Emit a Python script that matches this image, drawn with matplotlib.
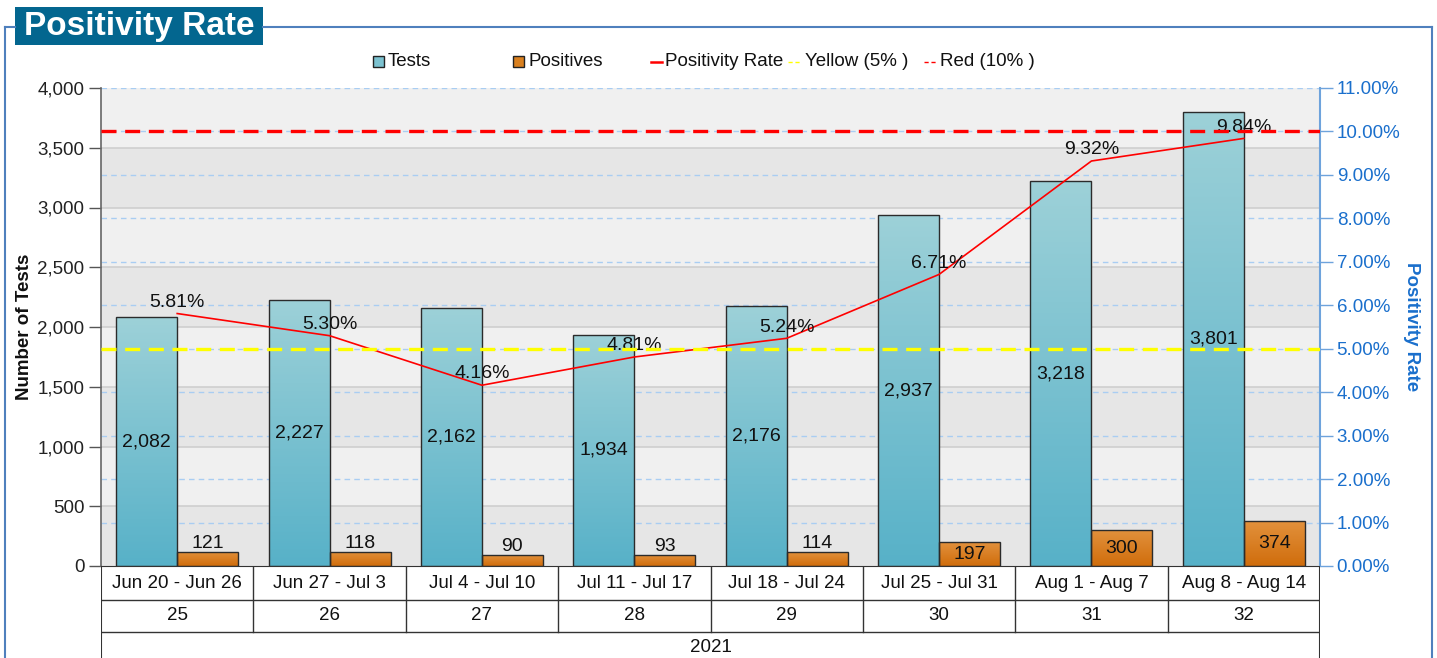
import numpy as np
import matplotlib
matplotlib.use("Agg")
import matplotlib.pyplot as plt
from matplotlib.patches import Rectangle
from matplotlib.lines import Line2D
from matplotlib.colors import LinearSegmentedColormap
from matplotlib.ticker import FuncFormatter, MultipleLocator

plt.rcParams['font.family'] = ['Liberation Sans', 'DejaVu Sans']

weeks = ["Jun 20 - Jun 26", "Jun 27 - Jul 3", "Jul 4 - Jul 10", "Jul 11 - Jul 17",
         "Jul 18 - Jul 24", "Jul 25 - Jul 31", "Aug 1 - Aug 7", "Aug 8 - Aug 14"]
week_nums = ["25", "26", "27", "28", "29", "30", "31", "32"]
year_label = "2021"
tests = [2082, 2227, 2162, 1934, 2176, 2937, 3218, 3801]
positives = [121, 118, 90, 93, 114, 197, 300, 374]
rates = [5.81, 5.30, 4.16, 4.81, 5.24, 6.71, 9.32, 9.84]
yellow_threshold = 5.0
red_threshold = 10.0

W, H = 1437, 658
fig = plt.figure(figsize=(W / 100, H / 100), dpi=100)

def fx(px):
    return px / W

def fy(py):
    return 1 - py / H

L, R, T, B = 101, 1320, 88, 566
ax = fig.add_axes([fx(L), fy(B), fx(R - L), (B - T) / H])
ax2 = ax.twinx()

n = len(weeks)
x = np.arange(n)
bw = 0.4

ax.set_xlim(-0.5, n - 0.5)
ax.set_ylim(0, 4000)
ax2.set_ylim(0, 11)

# background bands
for i, y0 in enumerate(range(0, 4000, 500)):
    ax.axhspan(y0, y0 + 500, color='#e6e6e6' if i % 2 == 0 else '#f0f0f0', zorder=0, lw=0)
for y0 in range(500, 4000, 500):
    ax.axhline(y0, color='#cfcfcf', lw=1.2, zorder=0.5)
for p in range(1, 12):
    ax.axhline(p * 4000 / 11, color='#a9cdf2', lw=1, ls=(0, (4, 3)), zorder=0.6)

cmap_t = LinearSegmentedColormap.from_list('t', ['#57b1c8', '#9dd1d8'])
cmap_p = LinearSegmentedColormap.from_list('p', ['#d06d0c', '#e2913c'])
grad = np.linspace(0, 1, 256).reshape(-1, 1)

bars_t = ax.bar(x - bw / 2, tests, width=bw, facecolor='none', edgecolor='#2b2b2b', lw=1, zorder=3)
bars_p = ax.bar(x + bw / 2, positives, width=bw, facecolor='none', edgecolor='#2b2b2b', lw=1, zorder=3)
for bars, cm in ((bars_t, cmap_t), (bars_p, cmap_p)):
    for b in bars:
        x0, y0 = b.get_x(), b.get_y()
        im = ax.imshow(grad, cmap=cm, origin='lower', aspect='auto',
                       extent=[x0, x0 + b.get_width(), y0, y0 + b.get_height()], zorder=2)
        im.set_clip_path(b)
ax.set_xlim(-0.5, n - 0.5)
ax.set_ylim(0, 4000)

lab_fs = 14
for b, v in zip(bars_t, tests):
    ax.text(b.get_x() + b.get_width() / 2, v / 2, f"{v:,}", ha='center', va='center',
            fontsize=lab_fs, color='#111111', zorder=5)
for b, v in zip(bars_p, positives):
    cx = b.get_x() + b.get_width() / 2
    if v >= 150:
        ax.text(cx, v / 2, f"{v}", ha='center', va='center', fontsize=lab_fs, color='#111111', zorder=5)
    else:
        ax.annotate(f"{v}", (cx, v), xytext=(0, 0), textcoords='offset points',
                    ha='center', va='bottom', fontsize=lab_fs, color='#111111', zorder=5)

# positivity line + labels
ax2.plot(x, rates, color='#ff0000', lw=1.2, zorder=4)
for xi, r in zip(x, rates):
    ax2.annotate(f"{r:.2f}%", (xi, r), xytext=(0, 2), textcoords='offset points',
                 ha='center', va='bottom', fontsize=lab_fs, color='#111111', zorder=5)
ax2.axhline(red_threshold, color='#ff0000', lw=2.4, dashes=(4.5, 2.6), zorder=6)
ax2.axhline(yellow_threshold, color='#ffff00', lw=2.4, dashes=(4.5, 2.6), zorder=6)

# axes styling
tick_fs = 13.5
ax.yaxis.set_major_locator(MultipleLocator(500))
ax.yaxis.set_major_formatter(FuncFormatter(lambda v, p: f"{int(v):,}"))
ax.tick_params(axis='y', labelsize=tick_fs, colors='#555555', labelcolor='#222222',
               length=9, width=1, direction='out', pad=3)
ax.set_xticks([])
ax.set_ylabel("Number of Tests", fontsize=13.5, fontweight='bold', color='#111111', labelpad=3)

ax2.yaxis.set_major_locator(MultipleLocator(1))
ax2.yaxis.set_major_formatter(FuncFormatter(lambda v, p: f"{v:.2f}%"))
ax2.tick_params(axis='y', labelsize=tick_fs, colors='#6ea3dc', labelcolor='#1a6fcc', length=9,
                width=1, direction='out', pad=3)
ax2.set_ylabel("Positivity Rate", fontsize=13.5, fontweight='bold', color='#1a6fcc',
               rotation=270, labelpad=14)

for a in (ax, ax2):
    a.spines['top'].set_visible(False)
ax.spines['left'].set_color('#666666')
ax.spines['left'].set_linewidth(1.2)
ax.spines['right'].set_visible(False)
ax.spines['bottom'].set_color('#333333')
ax2.spines['left'].set_visible(False)
ax2.spines['bottom'].set_visible(False)
ax2.spines['right'].set_color('#6ea3dc')
ax2.spines['right'].set_linewidth(1.5)

# category table below the plot
tax = fig.add_axes([fx(L), 0, fx(R - L), (H - B) / H])
tax.set_xlim(-0.5, n - 0.5)
tax.set_ylim(H - B, 0)
tax.axis('off')
tc = '#333333'
tbl_fs = 13.5
tax.plot([-0.5, n - 0.5], [34, 34], color=tc, lw=1)
tax.plot([-0.5, n - 0.5], [66, 66], color=tc, lw=1)
tax.plot([-0.5, -0.5], [0, H - B], color=tc, lw=1.5)
tax.plot([n - 0.5, n - 0.5], [0, H - B], color=tc, lw=1.5)
for i in range(n - 1):
    tax.plot([i + 0.5, i + 0.5], [0, 66], color=tc, lw=1)
for i in range(n):
    tax.text(i, 17, weeks[i], ha='center', va='center', fontsize=tbl_fs, color='#111111')
    tax.text(i, 49.5, week_nums[i], ha='center', va='center', fontsize=tbl_fs, color='#111111')
tax.text((n - 1) / 2, 81, year_label, ha='center', va='center', fontsize=tbl_fs, color='#111111')

# outer frame and title
fc = '#4f80bd'
fig.add_artist(Line2D([fx(5), fx(5)], [fy(27), fy(H + 5)], color=fc, lw=1.5))
fig.add_artist(Line2D([fx(5), fx(15)], [fy(27), fy(27)], color=fc, lw=1.5))
fig.add_artist(Line2D([fx(263), fx(1432)], [fy(27), fy(27)], color=fc, lw=1.5))
fig.add_artist(Line2D([fx(1432), fx(1432)], [fy(27), fy(H + 5)], color=fc, lw=1.5))
fig.add_artist(Rectangle((fx(15), fy(45)), fx(248), 38 / H, facecolor='#03668f', edgecolor='none'))
fig.text(fx(139), fy(26.5), "Positivity Rate", ha='center', va='center', fontsize=24,
         fontweight='bold', color='white')

# legend (manual)
ly = fy(61)
leg_fs = 13.5
def sq(px, color):
    fig.add_artist(Rectangle((fx(px), fy(67)), fx(11), 11 / H, facecolor=color,
                             edgecolor='#222222', lw=1))
sq(373, '#7cc2d0')
fig.text(fx(388), ly, "Tests", ha='left', va='center', fontsize=leg_fs, color='#111111')
sq(513, '#d9801f')
fig.text(fx(528), ly, "Positives", ha='left', va='center', fontsize=leg_fs, color='#111111')
fig.add_artist(Line2D([fx(651), fx(662)], [fy(62), fy(62)], color='#ff0000', lw=1.8))
fig.text(fx(665), ly, "Positivity Rate", ha='left', va='center', fontsize=leg_fs, color='#111111')
fig.add_artist(Line2D([fx(788), fx(800)], [fy(62), fy(62)], color='#ffff00', lw=1,
                      dashes=(3, 2)))
fig.text(fx(805), ly, "Yellow (5% )", ha='left', va='center', fontsize=leg_fs, color='#111111')
fig.add_artist(Line2D([fx(924), fx(936)], [fy(62), fy(62)], color='#ff0000', lw=1,
                      dashes=(3, 2)))
fig.text(fx(940), ly, "Red (10% )", ha='left', va='center', fontsize=leg_fs, color='#111111')

fig.savefig("out.png", dpi=100)
